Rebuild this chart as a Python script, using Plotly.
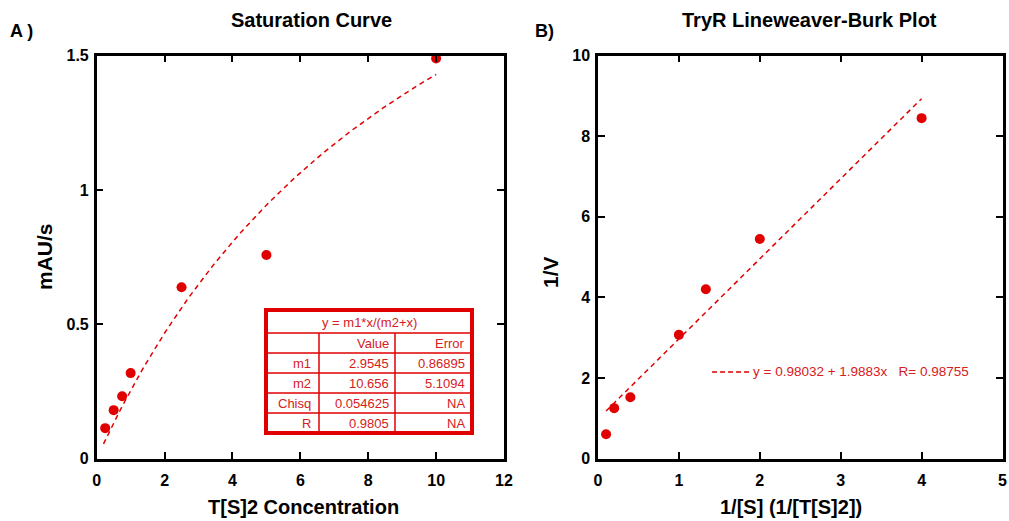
import numpy as np
import plotly.graph_objects as go

# ---------------- data ----------------
conc = [0.25, 0.5, 0.75, 1.0, 2.5, 5.0, 10.0]           # T[S]2 concentration
rate = [0.113, 0.180, 0.232, 0.318, 0.638, 0.758, 1.49]  # mAU/s

inv_s = [0.1, 0.2, 0.4, 1.0, 1.333, 2.0, 4.0]            # 1/[S]
inv_v = [0.60, 1.25, 1.52, 3.07, 4.20, 5.45, 8.45]       # 1/V

# hyperbolic fit (panel A) parameters as printed
m1, m2 = 2.9545, 10.656
fit_rows = ["m1", "m2", "Chisq", "R"]
fit_value = ["2.9545", "10.656", "0.054625", "0.9805"]
fit_error = ["0.86895", "5.1094", "NA", "NA"]
fit_eq = "y = m1*x/(m2+x)"

# linear fit (panel B) as printed
lin_a, lin_b, lin_r = 0.98032, 1.9883, 0.98755

A_xticks = [0, 2, 4, 6, 8, 10, 12]
A_yticks = [0, 0.5, 1, 1.5]
A_ytext = ["0", "0.5", "1", "1.5"]
B_xticks = [0, 1, 2, 3, 4, 5]
B_yticks = [0, 2, 4, 6, 8, 10]

# ---------------- layout helpers ----------------
W, H = 1009, 521
def px(x):
    return x / W
def py(y):
    return 1 - y / H

RED = "#e00000"
TRED = "#d62020"
FONT = "Liberation Sans, Arial, sans-serif"

fig = go.Figure()

# panel A
xa = np.linspace(min(conc) * 0.8, max(conc), 120)
ya = m1 * xa / (m2 + xa)
fig.add_trace(go.Scatter(x=xa, y=ya, mode="lines",
                         line=dict(color=RED, width=1.5, dash="5px,4px"),
                         xaxis="x", yaxis="y", showlegend=False, hoverinfo="skip"))
fig.add_trace(go.Scatter(x=conc, y=rate, mode="markers",
                         marker=dict(color=RED, size=10),
                         xaxis="x", yaxis="y", showlegend=False))

# panel B
xb = np.array([min(inv_s), max(inv_s)])
yb = lin_a + lin_b * xb
fig.add_trace(go.Scatter(x=xb, y=yb, mode="lines",
                         line=dict(color=RED, width=1.5, dash="5px,4px"),
                         xaxis="x2", yaxis="y2", showlegend=False, hoverinfo="skip"))
fig.add_trace(go.Scatter(x=inv_s, y=inv_v, mode="markers",
                         marker=dict(color=RED, size=10),
                         xaxis="x2", yaxis="y2", showlegend=False))

axis_common = dict(showline=True, linewidth=2.5, linecolor="black", mirror="ticks",
                   ticks="inside", ticklen=7, tickwidth=1.5, tickcolor="black",
                   showgrid=False, zeroline=False, automargin=False,
                   tickfont=dict(family=FONT, size=16, color="black", weight="bold"))
xstand = dict(ticklabelstandoff=6)
ystand = dict(ticklabelstandoff=2)

y_dom = [py(458.5), py(55.7)]
fig.update_layout(
    template="none",
    width=W, height=H,
    margin=dict(l=0, r=0, t=0, b=0, pad=0, autoexpand=False),
    paper_bgcolor="white", plot_bgcolor="white",
    xaxis=dict(domain=[px(96.7), px(504)], range=[0, 12], tickvals=A_xticks,
               anchor="y", **axis_common, **xstand),
    yaxis=dict(domain=y_dom, range=[0, 1.5], tickvals=A_yticks, ticktext=A_ytext,
               anchor="x", **axis_common, **ystand),
    xaxis2=dict(domain=[px(598), px(1002.5)], range=[0, 5], tickvals=B_xticks,
                anchor="y2", **axis_common, **xstand),
    yaxis2=dict(domain=y_dom, range=[0, 10], tickvals=B_yticks,
                anchor="x2", **axis_common, **ystand),
)

ann = []
def text(x, y, s, size=14, bold=True, color="black", xanchor="center", angle=0):
    ann.append(dict(x=px(x), y=py(y), xref="paper", yref="paper", text=s, showarrow=False,
                    xanchor=xanchor, yanchor="middle", textangle=angle,
                    font=dict(family=FONT, size=size, color=color,
                              weight="bold" if bold else "normal")))

# panel labels & titles
text(8, 31, "A )", size=18, xanchor="left")
text(533, 31, "B)", size=18, xanchor="left")
text(311.5, 20, "Saturation Curve", size=20)
text(809.5, 20, "TryR Lineweaver-Burk Plot", size=20)
text(303, 507, "T[S]2 Concentration", size=20)
text(790.5, 507, "1/[S] (1/[T[S]2])", size=20)
text(45, 257, "mAU/s", size=21, angle=-90)
text(550, 272, "1/V", size=21, angle=-90)

# fit table in panel A
shapes = []
tx0, tx1 = 266, 472
col1, col2 = 319, 395
rows = [310, 333, 353, 373, 393, 413, 433]
for r in rows[1:-1]:
    shapes.append(dict(type="line", xref="paper", yref="paper",
                       x0=px(tx0), x1=px(tx1), y0=py(r), y1=py(r),
                       line=dict(color=RED, width=1.5)))
for c in (col1, col2):
    shapes.append(dict(type="line", xref="paper", yref="paper",
                       x0=px(c), x1=px(c), y0=py(rows[1]), y1=py(rows[-1]),
                       line=dict(color=RED, width=1.5)))
shapes.append(dict(type="rect", xref="paper", yref="paper",
                   x0=px(tx0), x1=px(tx1), y0=py(rows[0]), y1=py(rows[-1]),
                   line=dict(color=RED, width=4)))

TS = 13
text((tx0 + tx1) / 2, (rows[0] + rows[1]) / 2 + 1, fit_eq, size=TS, bold=False, color=TRED)
hy = (rows[1] + rows[2]) / 2
text(col2 - 4, hy, "Value", size=TS, bold=False, color=TRED, xanchor="right")
text(tx1 - 5, hy, "Error", size=TS, bold=False, color=TRED, xanchor="right")
for i, name in enumerate(fit_rows):
    yy = (rows[i + 2] + rows[i + 3]) / 2
    text(col1 - 6, yy, name, size=TS, bold=False, color=TRED, xanchor="right")
    text(col2 - 4, yy, fit_value[i], size=TS, bold=False, color=TRED, xanchor="right")
    text(tx1 - 5, yy, fit_error[i], size=TS, bold=False, color=TRED, xanchor="right")

# legend for panel B
shapes.append(dict(type="line", xref="paper", yref="paper",
                   x0=px(712), x1=px(750), y0=py(372), y1=py(372),
                   line=dict(color=RED, width=1.5, dash="5px,3px")))
text(751, 372, "y = %.5f + %.4fx&nbsp;&nbsp;&nbsp;R= %.5f" % (lin_a, lin_b, lin_r),
     size=13.5, bold=False, color=TRED, xanchor="left")

fig.update_layout(annotations=ann, shapes=shapes)
fig.write_html("out.html",
               config={"displayModeBar": False},
               post_script="document.body.style.margin='0px';"
                           "document.body.style.overflow='hidden';")
